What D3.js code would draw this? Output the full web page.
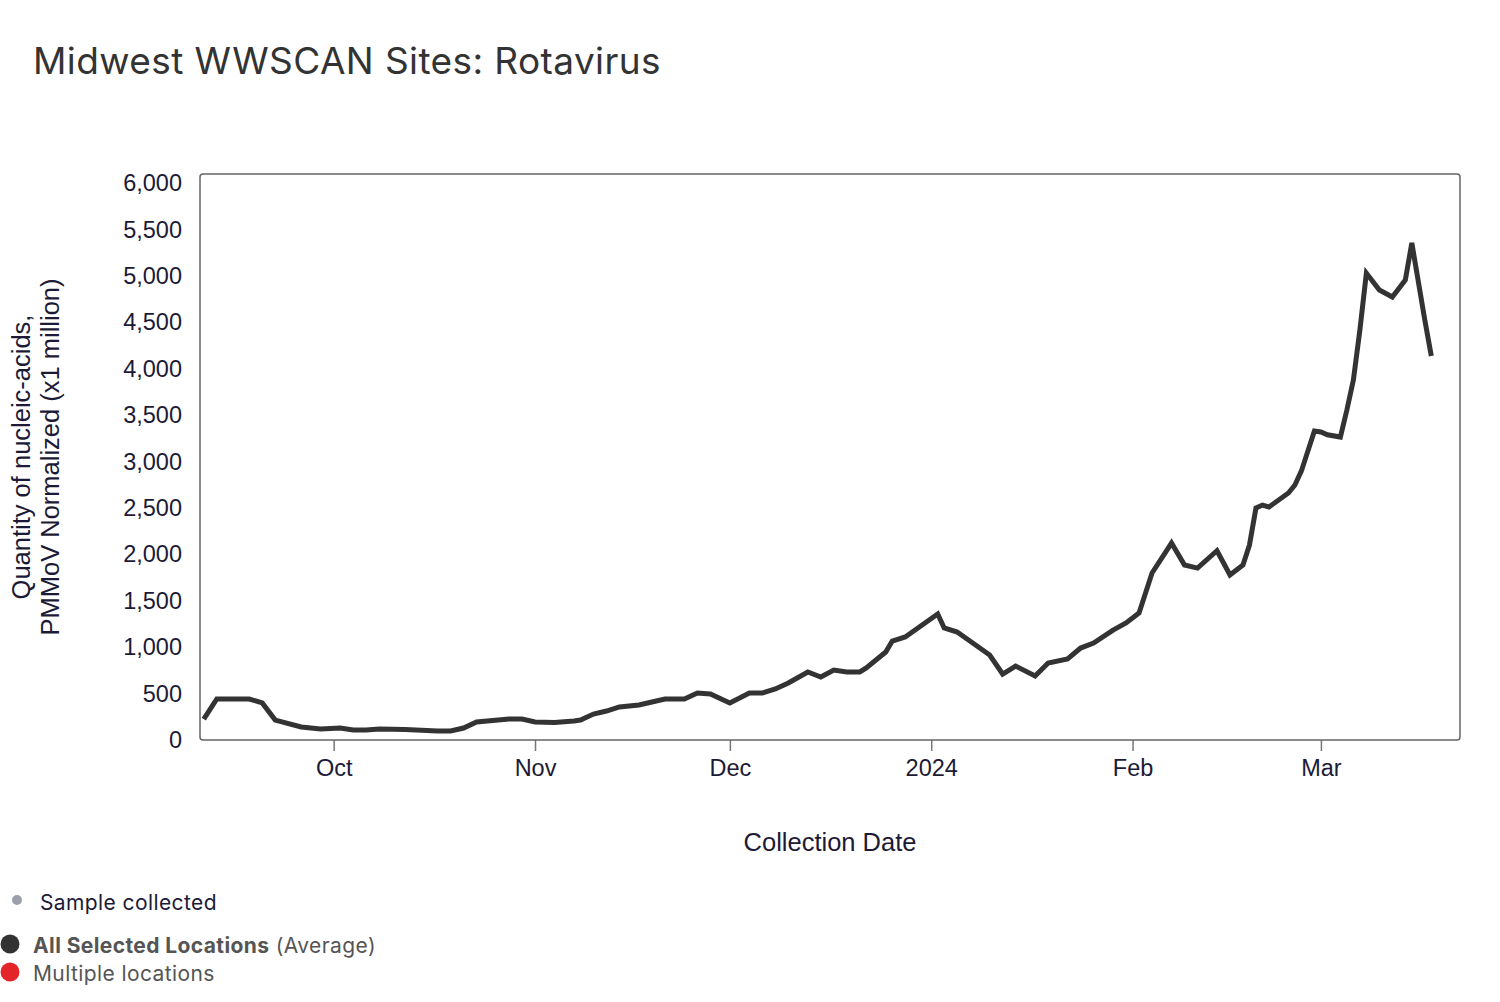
<!DOCTYPE html>
<html>
<head>
<meta charset="utf-8">
<script src="https://cdn.jsdelivr.net/npm/d3@7"></script>
<style>
  body { margin: 0; background: #fff; }
  svg { display: block; }
</style>
</head>
<body>
<div id="chart"></div>
<script>
'use strict';
// rotavirus average across midwest sites

var dates = ["2023-09-11", "2023-09-13", "2023-09-18", "2023-09-20", "2023-09-22", "2023-09-26",
    "2023-09-29", "2023-10-02", "2023-10-04", "2023-10-06", "2023-10-08", "2023-10-12", "2023-10-17",
    "2023-10-19", "2023-10-21", "2023-10-23", "2023-10-28", "2023-10-30", "2023-11-01", "2023-11-04",
    "2023-11-07", "2023-11-08", "2023-11-10", "2023-11-12", "2023-11-14", "2023-11-17", "2023-11-19",
    "2023-11-21", "2023-11-24", "2023-11-26", "2023-11-28", "2023-12-01", "2023-12-04", "2023-12-06",
    "2023-12-08", "2023-12-10", "2023-12-13", "2023-12-15", "2023-12-17", "2023-12-19", "2023-12-21",
    "2023-12-22", "2023-12-25", "2023-12-26", "2023-12-28", "2024-01-02", "2024-01-03", "2024-01-05",
    "2024-01-10", "2024-01-12", "2024-01-14", "2024-01-17", "2024-01-19", "2024-01-22", "2024-01-24",
    "2024-01-26", "2024-01-29", "2024-01-31", "2024-02-02", "2024-02-04", "2024-02-07", "2024-02-09",
    "2024-02-11", "2024-02-14", "2024-02-16", "2024-02-18", "2024-02-19", "2024-02-20", "2024-02-21",
    "2024-02-22", "2024-02-25", "2024-02-26", "2024-02-27", "2024-02-29", "2024-03-01", "2024-03-02",
    "2024-03-04", "2024-03-05", "2024-03-06", "2024-03-07", "2024-03-08", "2024-03-10", "2024-03-12",
    "2024-03-14", "2024-03-15", "2024-03-17", "2024-03-18"];

var values = [226, 442, 442, 400, 215, 140,
    118, 129, 108, 108, 118, 113, 97,
    97, 129, 194, 226, 226, 194, 189,
    205, 215, 280, 312, 356, 377, 409,
    442, 442, 506, 496, 399, 506, 506,
    550, 614, 733, 679, 754, 733, 733,
    776, 948, 1067, 1110, 1358, 1207, 1164,
    916, 711, 797, 690, 830, 873, 991,
    1045, 1185, 1261, 1369, 1800, 2123, 1886,
    1853, 2040, 1778, 1886, 2101, 2500, 2532,
    2511, 2662, 2748, 2900, 3330, 3320, 3290,
    3265, 3556, 3879, 4418, 5032, 4849, 4774,
    4957, 5356, 4526, 4138];

var yTicks = [0, 500, 1000, 1500, 2000, 2500, 3000, 3500, 4000, 4500, 5000, 5500, 6000];

var legendItems = [
    {label: "All Selected Locations", extra: " (Average)", color: "#333333"},
    {label: "Multiple locations", extra: "", color: "#e3252a"}
];

var width = 1500, height = 1002;
var margin = {top: 174, right: 40, bottom: 262, left: 200};
var innerW = width - margin.left - margin.right;
var innerH = height - margin.top - margin.bottom;

var parse = d3.timeParse("%Y-%m-%d");
var data = dates.map(function(d, i) { return {date: parse(d), value: values[i]}; });

var svg = d3.select("#chart").append("svg")
    .attr("width", width)
    .attr("height", height);

svg.append("text")
    .attr("x", 33)
    .attr("y", 74)
    .style("font-family", "Inter, 'Noto Sans', sans-serif")
    .style("font-size", "37px")
    .style("letter-spacing", "0.4px")
    .style("fill", "#333")
    .text("Midwest WWSCAN Sites: Rotavirus");

var g = svg.append("g").attr("transform", "translate(" + margin.left + "," + margin.top + ")");

var x = d3.scaleTime()
    .domain([new Date(2023, 8, 10, 10), new Date(2024, 2, 22, 10)])
    .range([0, innerW]);
var y = d3.scaleLinear()
    .domain([0, 6100])
    .range([innerH, 0]);

var monthFmt = d3.timeFormat("%b"), yearFmt = d3.timeFormat("%Y");

// y axis labels only, frame drawn separately
var yAxis = g.append("g")
    .call(d3.axisLeft(y).tickValues(yTicks).tickSize(0).tickPadding(18).tickFormat(d3.format(",")));
yAxis.select(".domain").remove();
yAxis.selectAll("text")
    .style("font-family", "'Liberation Sans', Arial, sans-serif")
    .style("font-size", "23.5px")
    .style("fill", "#1c1a36");

var xAxis = g.append("g")
    .attr("transform", "translate(0," + innerH + ")")
    .call(d3.axisBottom(x).ticks(d3.timeMonth.every(1)).tickSize(11).tickPadding(8)
        .tickFormat(function(d) { return d.getMonth() === 0 ? yearFmt(d) : monthFmt(d); }));
xAxis.select(".domain").remove();
xAxis.selectAll("line").attr("stroke", "#777").attr("stroke-width", 1.5);
xAxis.selectAll("text")
    .style("font-family", "'Liberation Sans', Arial, sans-serif")
    .style("font-size", "23.5px")
    .style("fill", "#1c1a36");

g.append("rect")
    .attr("width", innerW)
    .attr("height", innerH)
    .attr("rx", 3)
    .attr("fill", "none")
    .attr("stroke", "#666")
    .attr("stroke-width", 1.5);

var line = d3.line()
    .x(function(d) { return x(d.date); })
    .y(function(d) { return y(d.value); });

g.append("path")
    .datum(data)
    .attr("fill", "none")
    .attr("stroke", "#333")
    .attr("stroke-width", 5)
    .attr("stroke-linejoin", "miter")
    .attr("d", line);

// axis titles
svg.append("text")
    .attr("transform", "translate(30," + (margin.top + innerH / 2) + ") rotate(-90)")
    .attr("text-anchor", "middle")
    .style("font-family", "'Liberation Sans', Arial, sans-serif")
    .style("font-size", "25.5px")
    .style("fill", "#1c1a36")
    .selectAll("tspan")
    .data(["Quantity of nucleic-acids,", "PMMoV Normalized (x1 million)"])
    .enter().append("tspan")
        .attr("x", 0)
        .attr("dy", function(d, i) { return i ? 29 : 0; })
        .text(function(d) { return d; });

svg.append("text")
    .attr("x", 830)
    .attr("y", 851)
    .attr("text-anchor", "middle")
    .style("font-family", "'Liberation Sans', Arial, sans-serif")
    .style("font-size", "25.5px")
    .style("fill", "#1c1a36")
    .text("Collection Date");

// legend
svg.append("circle").attr("cx", 17).attr("cy", 900).attr("r", 5).attr("fill", "#9ca0ab");
svg.append("text")
    .attr("x", 40)
    .attr("y", 910)
    .style("font-family", "Inter, 'Noto Sans', sans-serif")
    .style("font-size", "21px")
    .style("letter-spacing", "0.4px")
    .style("fill", "#1c1a36")
    .text("Sample collected");

var leg = svg.selectAll(".leg")
    .data(legendItems)
    .enter().append("g")
        .attr("class", "leg")
        .attr("transform", function(d, i) { return "translate(0," + (944 + i * 28) + ")"; });
leg.append("circle")
    .attr("cx", 10)
    .attr("r", 9.5)
    .attr("fill", function(d) { return d.color; });
var legText = leg.append("text")
    .attr("x", 33)
    .attr("y", 9)
    .style("font-family", "Inter, 'Noto Sans', sans-serif")
    .style("font-size", "21px")
    .style("letter-spacing", "0.4px")
    .style("fill", "#555");
legText.append("tspan")
    .style("font-weight", function(d, i) { return i === 0 ? "700" : "400"; })
    .text(function(d) { return d.label; });
legText.append("tspan")
    .text(function(d) { return d.extra; });
</script>
</body>
</html>
